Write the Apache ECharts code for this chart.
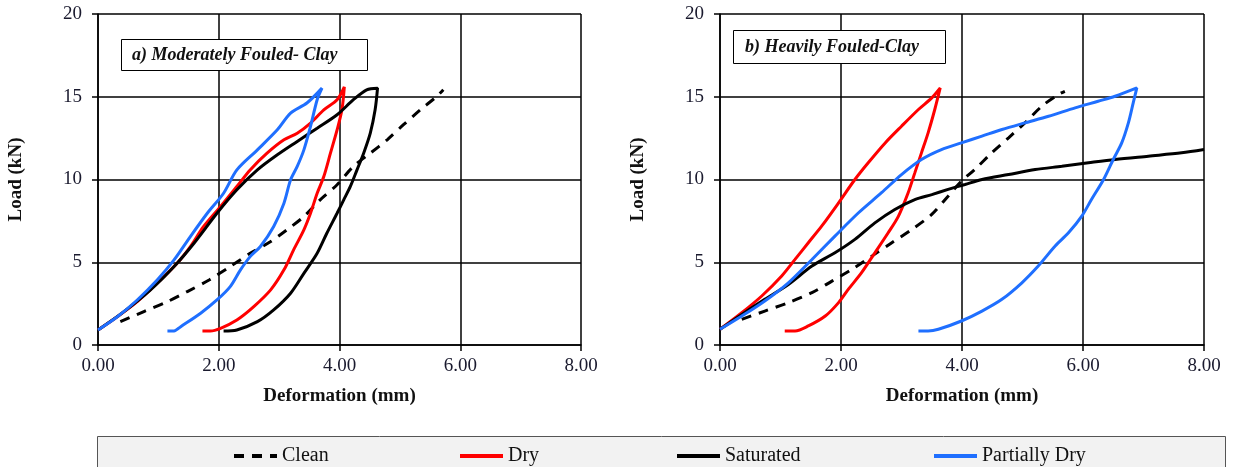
<!DOCTYPE html>
<html>
<head>
<meta charset="utf-8">
<title>Load - Deformation</title>
<script src="https://cdn.jsdelivr.net/npm/echarts@6.0.0/dist/echarts.min.js"></script>
<style>
  html, body { margin: 0; padding: 0; background: #fff; }
  #main { width: 1234px; height: 467px; }
</style>
</head>
<body>
<div id="main"></div>
<script>
// tick labels
var xTicks = [0, 2, 4, 6, 8];
var yTicks = [0, 5, 10, 15, 20];
var seriesNames = ["Clean", "Dry", "Saturated", "Partially Dry"];

// a) Moderately Fouled- Clay  [deformation mm, load kN]
var cleanA = [[0.37,1.41],[0.76,2.02],[1.15,2.62],[1.48,3.23],[1.84,3.93],[2.19,4.74],[2.52,5.54],[2.86,6.25],[3.13,6.96],[3.41,7.76],[3.68,8.77],[3.96,9.68],[4.23,10.79],[4.51,11.59],[4.79,12.4],[5.06,13.31],[5.34,14.21],[5.61,15.02],[5.72,15.42]];
var dryA = [[0,0.91],[0.32,1.71],[0.65,2.62],[0.98,3.73],[1.31,4.94],[1.53,5.95],[1.75,7.16],[2.03,8.37],[2.3,9.58],[2.52,10.58],[2.8,11.59],[3.08,12.4],[3.3,12.8],[3.52,13.41],[3.74,14.21],[3.96,14.82],[4.08,15.6],
  [4.04,14.21],[3.96,13.0],[3.85,11.59],[3.74,10.18],[3.63,9.17],[3.52,7.96],[3.41,6.96],[3.24,5.75],[3.08,4.54],[2.86,3.33],[2.58,2.32],[2.3,1.51],[2.03,1.01],[1.86,0.85],[1.73,0.85]];
var satA = [[0,0.91],[0.43,2.02],[0.87,3.33],[1.26,4.74],[1.59,6.15],[1.97,7.96],[2.3,9.38],[2.64,10.58],[2.97,11.49],[3.3,12.3],[3.63,13.1],[3.96,13.91],[4.23,14.82],[4.45,15.42],[4.63,15.52],
  [4.59,14.21],[4.51,12.8],[4.4,11.59],[4.29,10.58],[4.18,9.58],[4.07,8.77],[3.96,7.96],[3.79,6.75],[3.63,5.54],[3.41,4.33],[3.19,3.13],[2.91,2.12],[2.64,1.41],[2.3,0.91],[2.08,0.85]];
var partA = [[0,0.91],[0.32,1.71],[0.65,2.72],[0.98,3.93],[1.26,5.14],[1.53,6.55],[1.81,7.96],[2.08,9.17],[2.3,10.58],[2.64,11.79],[2.97,13.0],[3.19,14.01],[3.46,14.62],[3.71,15.52],
  [3.63,14.82],[3.52,13.21],[3.41,11.79],[3.3,10.79],[3.19,9.98],[3.08,8.57],[2.91,7.16],[2.69,5.95],[2.52,5.34],[2.36,4.54],[2.19,3.53],[1.97,2.72],[1.7,1.92],[1.37,1.11],[1.26,0.85],[1.15,0.85]];

// b) Heavily Fouled-Clay
var cleanB = [[0.36,1.55],[0.74,2.05],[1.13,2.56],[1.52,3.16],[1.85,3.86],[2.18,4.57],[2.51,5.37],[2.84,6.18],[3.17,6.98],[3.5,7.89],[3.77,8.99],[3.99,9.9],[4.21,10.6],[4.49,11.61],[4.77,12.52],[5.04,13.42],[5.32,14.43],[5.59,15.13],[5.7,15.33]];
var dryB = [[0,0.95],[0.36,1.95],[0.69,2.96],[1.02,4.17],[1.24,5.17],[1.46,6.18],[1.68,7.18],[1.96,8.59],[2.23,10.0],[2.45,11.01],[2.73,12.21],[3.0,13.22],[3.28,14.23],[3.5,14.93],[3.64,15.53],
  [3.55,14.23],[3.44,12.82],[3.33,11.61],[3.22,10.4],[3.11,9.2],[2.95,7.79],[2.78,6.78],[2.56,5.57],[2.34,4.37],[2.12,3.36],[1.96,2.56],[1.74,1.75],[1.46,1.15],[1.24,0.85],[1.07,0.85]];
var satB = [[0,0.95],[0.36,1.85],[0.74,2.76],[1.13,3.66],[1.52,4.77],[1.9,5.57],[2.23,6.38],[2.56,7.38],[2.89,8.19],[3.22,8.79],[3.5,9.09],[3.77,9.4],[4.05,9.7],[4.33,10.0],[4.77,10.3],[5.21,10.6],[5.65,10.8],[6.09,11.01],[6.53,11.21],[7.08,11.41],[7.63,11.61],[8.0,11.81]];
var partB = [[0,0.95],[0.36,1.75],[0.74,2.66],[1.13,3.76],[1.52,5.17],[1.9,6.58],[2.29,7.99],[2.67,9.2],[3.0,10.3],[3.33,11.21],[3.66,11.81],[3.99,12.21],[4.33,12.62],[4.66,13.02],[5.04,13.42],[5.43,13.82],[5.87,14.33],[6.25,14.73],[6.53,15.03],[6.89,15.53],
  [6.83,14.63],[6.75,13.42],[6.64,12.21],[6.5,11.21],[6.34,10.0],[6.14,8.79],[5.98,7.79],[5.76,6.78],[5.54,5.98],[5.26,4.77],[4.99,3.76],[4.66,2.76],[4.33,2.05],[3.99,1.45],[3.61,0.95],[3.44,0.85],[3.28,0.85]];

var serif = "'Liberation Serif', 'Times New Roman', serif";
var colors = {"Clean": "#000", "Dry": "#ff0000", "Saturated": "#000", "Partially Dry": "#1f6fff"};

function xAx(idx) {
  return {
    type: "value", gridIndex: idx, min: xTicks[0], max: xTicks[xTicks.length - 1], interval: 2,
    name: "Deformation (mm)", nameLocation: "middle", nameGap: 42,
    nameTextStyle: {fontFamily: serif, fontWeight: "bold", fontSize: 19, color: "#111"},
    axisLine: {onZero: false, lineStyle: {color: "#000", width: 1.5}},
    axisTick: {show: true, length: 6, lineStyle: {color: "#000", width: 1.5}},
    axisLabel: {fontFamily: serif, fontSize: 19, color: "#1a1a2e", margin: 12,
      formatter: function (v) { return v.toFixed(2); }},
    splitLine: {show: true, lineStyle: {color: "#000", width: 1.5}}
  };
}
function yAx(idx) {
  return {
    type: "value", gridIndex: idx, min: yTicks[0], max: yTicks[yTicks.length - 1], interval: 5,
    name: "Load (kN)", nameLocation: "middle", nameGap: 72, nameRotate: 90,
    nameTextStyle: {fontFamily: serif, fontWeight: "bold", fontSize: 19, color: "#111"},
    axisLine: {show: true, onZero: false, lineStyle: {color: "#000", width: 1.5}},
    axisTick: {show: true, length: 6, lineStyle: {color: "#000", width: 1.5}},
    axisLabel: {fontFamily: serif, fontSize: 19, color: "#1a1a2e", margin: 16},
    splitLine: {show: true, lineStyle: {color: "#000", width: 1.5}}
  };
}
function ser(name, data, idx) {
  return {
    name: name, type: "line", data: data, xAxisIndex: idx, yAxisIndex: idx,
    showSymbol: false, symbol: "none", smooth: 0.3, animation: false,
    itemStyle: {color: colors[name]},
    lineStyle: {color: colors[name], width: 3, type: name === "Clean" ? [10, 8] : "solid"}
  };
}
function leg(name, left) {
  return {
    data: [name], left: left, top: 441, itemWidth: 43, itemHeight: 14, itemGap: 0,
    itemStyle: {opacity: 0},
    lineStyle: {width: 4},
    textStyle: {fontFamily: serif, fontSize: 20, color: "#111"}
  };
}

var chart = echarts.init(document.getElementById("main"));
var option = {
  backgroundColor: "#fff",
  animation: false,
  title: [{
    text: "a) Moderately Fouled- Clay", left: 121, top: 39, padding: [7, 30, 7, 11],
    borderColor: "#000", borderWidth: 1, backgroundColor: "#fff",
    textStyle: {fontFamily: serif, fontStyle: "italic", fontWeight: "bold", fontSize: 18, color: "#111"}
  }, {
    text: "b) Heavily Fouled-Clay", left: 733, top: 30, padding: [8, 27, 8, 12],
    borderColor: "#000", borderWidth: 1, backgroundColor: "#fff",
    textStyle: {fontFamily: serif, fontStyle: "italic", fontWeight: "bold", fontSize: 18, color: "#111"}
  }],
  graphic: [{
    type: "rect", left: 97, top: 436, z: -1,
    shape: {width: 1128, height: 40},
    style: {fill: "#f2f2f2", stroke: "#555", lineWidth: 1}
  }],
  legend: [leg("Clean", 227), leg("Dry", 453), leg("Saturated", 670), leg("Partially Dry", 927)],
  grid: [
    {left: 98, top: 14, width: 483, height: 331, containLabel: false, outerBoundsMode: "none"},
    {left: 720, top: 14, width: 484, height: 331, containLabel: false, outerBoundsMode: "none"}
  ],
  xAxis: [xAx(0), xAx(1)],
  yAxis: [yAx(0), yAx(1)],
  series: [
    ser("Clean", cleanA, 0), ser("Dry", dryA, 0), ser("Saturated", satA, 0), ser("Partially Dry", partA, 0),
    ser("Clean", cleanB, 1), ser("Dry", dryB, 1), ser("Saturated", satB, 1), ser("Partially Dry", partB, 1)
  ]
};
chart.setOption(option);
</script>
</body>
</html>
